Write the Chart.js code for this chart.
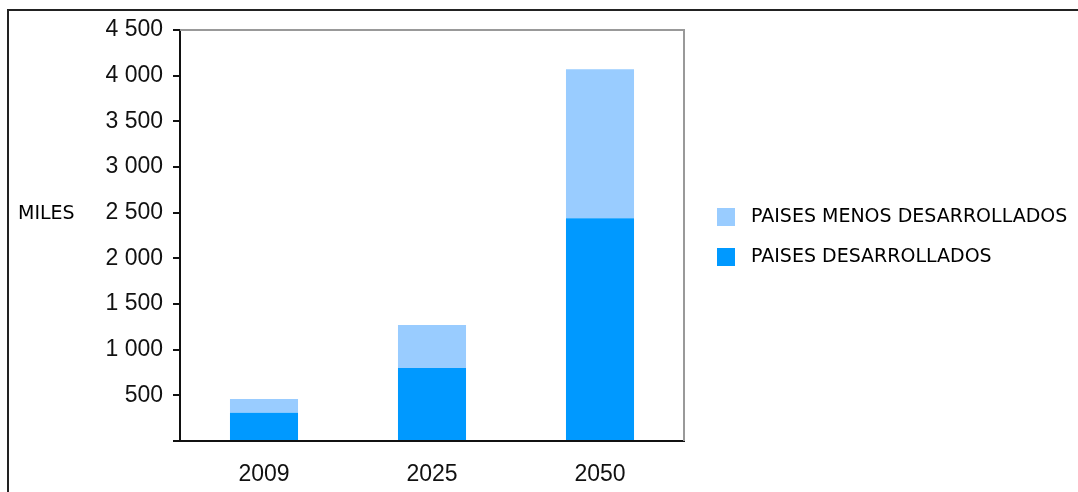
<html lang="es">

<head>
    <meta charset="UTF-8">
    <meta name="viewport" content="width=device-width, initial-scale=1.0">
    <title>Miles</title>
    <style>
        body { margin: 0; background: #fff; }
    </style>
</head>

<body>
    <canvas id="canvas" width="1078" height="492"></canvas>
    <script src="https://cdn.jsdelivr.net/npm/chart.js@4/dist/chart.umd.min.js"></script>
    <script>
        // datos
        const years = ['2009', '2025', '2050'];
        const desarrollados = [310, 800, 2440];
        const menosDesarrollados = [150, 470, 1630];
        const yMax = 4500;
        const yStep = 500;

        const darkBlue = '#0099ff';
        const lightBlue = '#99ccff';

        function miles(v) {
            if (v === 0) return '';
            return String(v).replace(/\B(?=(\d{3})+(?!\d))/g, ' ');
        }

        // marco, borde gris del area y leyenda a la derecha
        const extras = {
            id: 'extras',
            beforeDraw(chart) {
                const ctx = chart.ctx;
                ctx.save();
                ctx.fillStyle = '#fff';
                ctx.fillRect(0, 0, chart.width, chart.height);
                ctx.restore();
            },
            afterDraw(chart) {
                const ctx = chart.ctx;
                const a = chart.chartArea;
                ctx.save();

                // borde superior y derecho del area
                ctx.strokeStyle = '#999';
                ctx.lineWidth = 2;
                ctx.beginPath();
                ctx.moveTo(a.left, a.top);
                ctx.lineTo(a.right, a.top);
                ctx.lineTo(a.right, a.bottom);
                ctx.stroke();

                // marco exterior
                ctx.strokeStyle = '#222';
                ctx.lineWidth = 2;
                ctx.beginPath();
                ctx.moveTo(chart.width, 10);
                ctx.lineTo(8, 10);
                ctx.lineTo(8, chart.height);
                ctx.stroke();

                // titulo eje
                ctx.fillStyle = '#000';
                ctx.font = '19px "DejaVu Sans"';
                ctx.textBaseline = 'middle';
                ctx.textAlign = 'left';
                ctx.fillText('MILES', 18, 214);

                // leyenda (orden inverso al apilado)
                const ds = chart.data.datasets.slice().reverse();
                let y = 217;
                ds.forEach(d => {
                    ctx.fillStyle = d.backgroundColor;
                    ctx.fillRect(717, y - 9, 18, 18);
                    ctx.fillStyle = '#000';
                    ctx.fillText(d.label, 751, y);
                    y += 40;
                });
                ctx.restore();
            }
        };

        new Chart(document.getElementById('canvas'), {
            type: 'bar',
            data: {
                labels: years,
                datasets: [
                    {
                        label: 'PAISES DESARROLLADOS',
                        data: desarrollados,
                        backgroundColor: darkBlue
                    },
                    {
                        label: 'PAISES MENOS DESARROLLADOS',
                        data: menosDesarrollados,
                        backgroundColor: lightBlue
                    }
                ]
            },
            options: {
                responsive: false,
                animation: false,
                categoryPercentage: 1,
                barPercentage: 0.405,
                layout: {
                    padding: { top: 30, right: 394, left: 0, bottom: 0 }
                },
                plugins: {
                    legend: { display: false },
                    tooltip: { enabled: false }
                },
                scales: {
                    x: {
                        stacked: true,
                        grid: { display: false },
                        border: { display: true, color: '#111', width: 2 },
                        ticks: {
                            color: '#111',
                            padding: 12,
                            font: { family: '"Liberation Sans", Arial', size: 23 }
                        },
                        afterFit(scale) { scale.height = 51; }
                    },
                    y: {
                        stacked: true,
                        min: 0,
                        max: yMax,
                        grid: {
                            drawOnChartArea: false,
                            drawTicks: true,
                            tickLength: 7,
                            color: '#111',
                            lineWidth: 2
                        },
                        border: { display: true, color: '#111', width: 2 },
                        ticks: {
                            stepSize: yStep,
                            padding: 10,
                            color: '#111',
                            font: { family: '"Liberation Sans", Arial', size: 23 },
                            callback: v => miles(v)
                        },
                        afterFit(scale) { scale.width = 180; }
                    }
                }
            },
            plugins: [extras]
        });
    </script>
</body>

</html>
